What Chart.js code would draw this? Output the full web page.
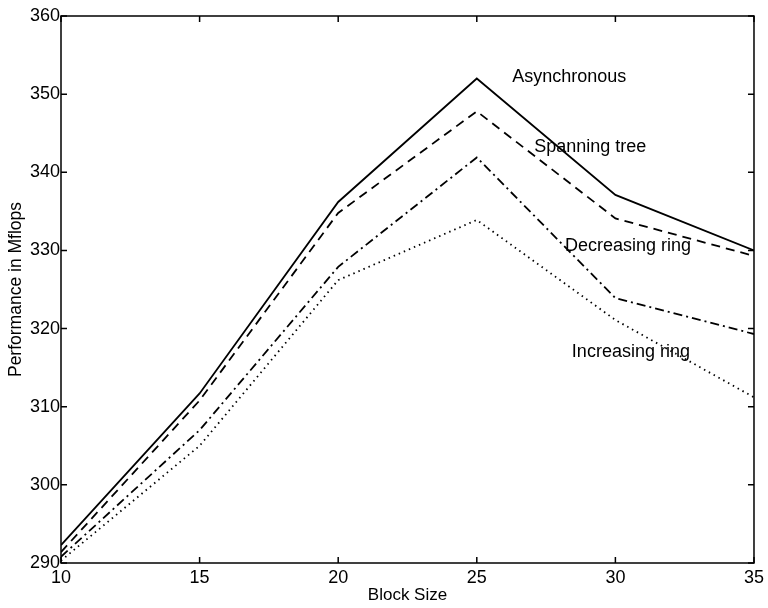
<!DOCTYPE html>
<html>
<head>
<meta charset="utf-8">
<script src="https://cdn.jsdelivr.net/npm/chart.js@4"></script>
<style>
  html, body { margin: 0; padding: 0; background: #fff; }
  #wrap { width: 768px; height: 608px; }
</style>
</head>
<body>
<div id="wrap"><canvas id="grafico" width="768" height="608"></canvas></div>
<script>
// Datos
const tamBloque = [10, 15, 20, 25, 30, 35];
const asincrono = [292.3, 311.7, 336.2, 352, 337.1, 330];
const arbolExpansion = [291.4, 310.8, 334.8, 347.8, 334.1, 329.3];
const anilloDecreciente = [290.8, 307, 327.9, 341.9, 323.9, 319.3];
const anilloCreciente = [290.3, 305, 326.2, 333.9, 321.1, 311.2];
const nombresSeries = ['Asynchronous', 'Spanning tree', 'Decreasing ring', 'Increasing ring'];

const fuente = 'Liberation Sans, Arial, Helvetica, sans-serif';

function puntos(valores) {
    return tamBloque.map((x, i) => ({ x: x, y: valores[i] }));
}

// Marco con marcas hacia dentro en los cuatro lados + etiquetas de texto
const pluginMarco = {
    id: 'marco',
    afterDraw(chart, args, opts) {
        const { ctx, chartArea: a, scales } = chart;
        ctx.save();
        ctx.strokeStyle = '#000';
        ctx.lineWidth = 1.5;
        ctx.strokeRect(a.left, a.top, a.right - a.left, a.bottom - a.top);
        const largo = 6;
        ctx.beginPath();
        scales.x.ticks.forEach(t => {
            const px = scales.x.getPixelForValue(t.value);
            ctx.moveTo(px, a.bottom); ctx.lineTo(px, a.bottom - largo);
            ctx.moveTo(px, a.top); ctx.lineTo(px, a.top + largo);
        });
        scales.y.ticks.forEach(t => {
            const py = scales.y.getPixelForValue(t.value);
            ctx.moveTo(a.left, py); ctx.lineTo(a.left + largo, py);
            ctx.moveTo(a.right, py); ctx.lineTo(a.right - largo, py);
        });
        ctx.stroke();

        ctx.fillStyle = '#000';
        ctx.font = '18px ' + fuente;
        ctx.textAlign = 'left';
        ctx.textBaseline = 'middle';
        opts.etiquetas.forEach(e => {
            ctx.fillText(e.texto, scales.x.getPixelForValue(e.x), scales.y.getPixelForValue(e.y));
        });
        ctx.restore();
    }
};

const grafico = new Chart(document.getElementById('grafico').getContext('2d'), {
    type: 'line',
    data: {
        datasets: [
            {
                label: nombresSeries[0],
                data: puntos(asincrono),
                borderColor: '#000',
                borderWidth: 1.8,
            },
            {
                label: nombresSeries[1],
                data: puntos(arbolExpansion),
                borderColor: '#000',
                borderWidth: 1.8,
                borderDash: [9, 6],
            },
            {
                label: nombresSeries[2],
                data: puntos(anilloDecreciente),
                borderColor: '#000',
                borderWidth: 1.8,
                borderDash: [9, 4, 2, 4],
            },
            {
                label: nombresSeries[3],
                data: puntos(anilloCreciente),
                borderColor: '#000',
                borderWidth: 1.8,
                borderDash: [1.5, 4],
            }
        ]
    },
    options: {
        responsive: false,
        animation: false,
        events: [],
        elements: { point: { radius: 0 }, line: { tension: 0, fill: false } },
        layout: { padding: { top: 16, right: 13, left: 4, bottom: 0 } },
        plugins: {
            legend: { display: false },
            tooltip: { enabled: false },
            marco: {
                etiquetas: [
                    { texto: nombresSeries[0], x: 26.28, y: 352.2 },
                    { texto: nombresSeries[1], x: 27.07, y: 343.2 },
                    { texto: nombresSeries[2], x: 28.18, y: 330.5 },
                    { texto: nombresSeries[3], x: 28.43, y: 317.0 }
                ]
            }
        },
        scales: {
            x: {
                type: 'linear',
                min: 10,
                max: 35,
                grid: { display: false, drawTicks: false },
                border: { display: false },
                ticks: { stepSize: 5, color: '#000', padding: 4, font: { family: fuente, size: 18 } },
                title: { display: true, text: 'Block Size', color: '#000', padding: { top: -1, bottom: 2 }, font: { family: fuente, size: 17 } },
                afterFit(s) { s.height = 45; }
            },
            y: {
                min: 290,
                max: 360,
                grid: { display: false, drawTicks: false },
                border: { display: false },
                ticks: { stepSize: 10, color: '#000', padding: 1, font: { family: fuente, size: 18 } },
                title: { display: true, text: 'Performance in Mflops', color: '#000', padding: { top: 2, bottom: 2 }, font: { family: fuente, size: 17.5 } },
                afterFit(s) { s.width = 57; }
            }
        }
    },
    plugins: [pluginMarco]
});
</script>
</body>
</html>
